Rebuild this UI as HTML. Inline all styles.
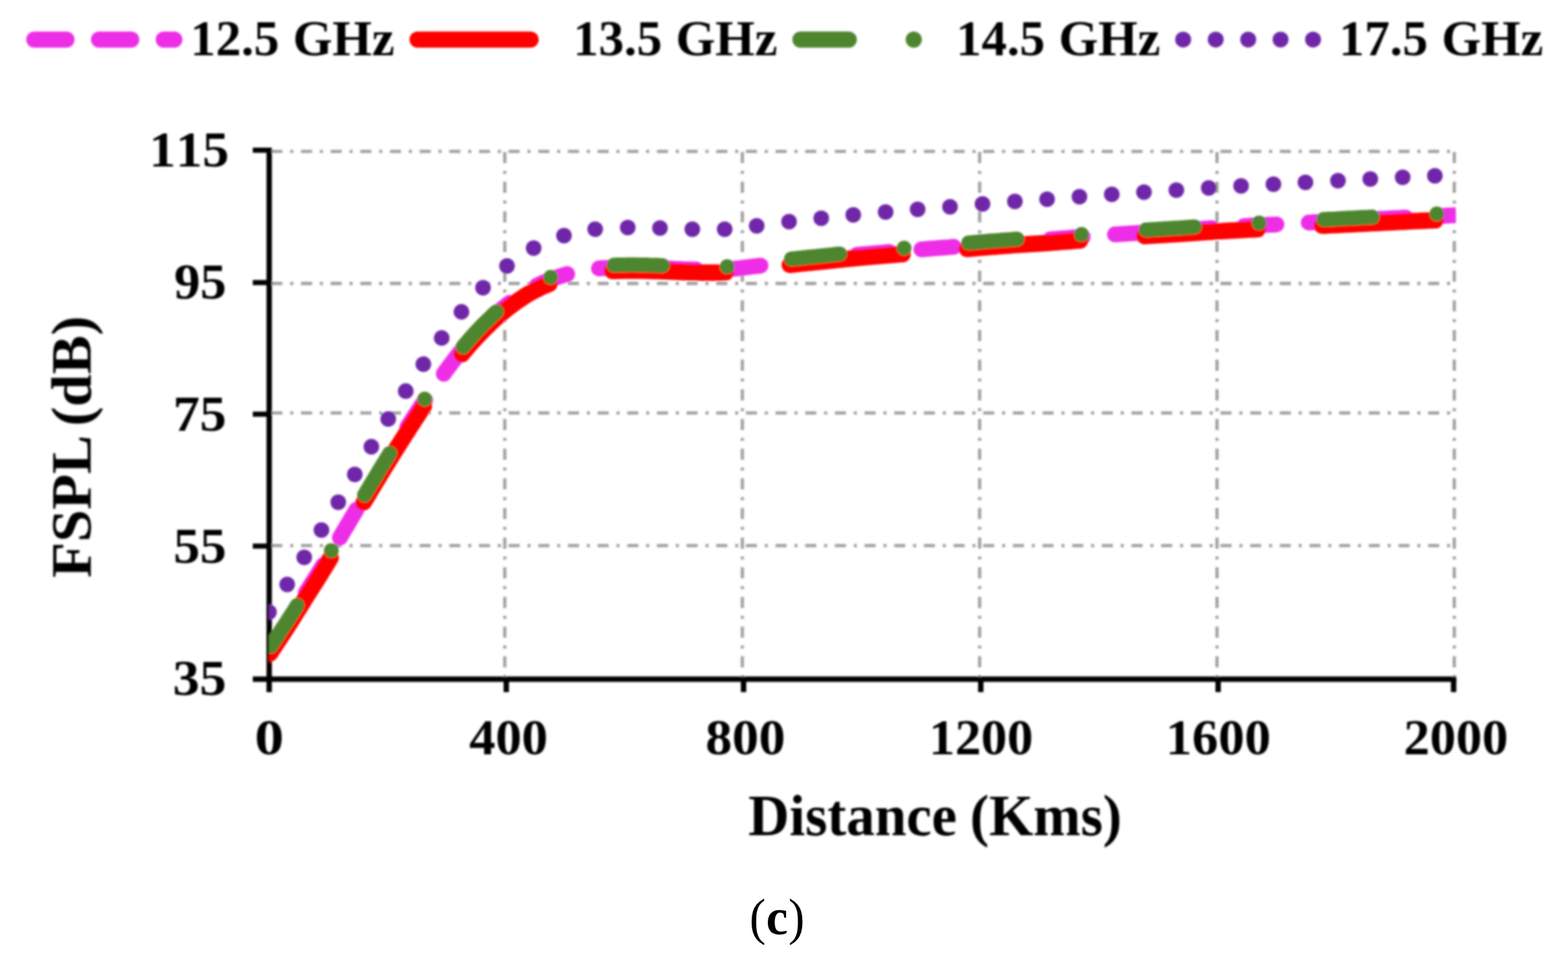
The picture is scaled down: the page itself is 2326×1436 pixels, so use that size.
<!DOCTYPE html>
<html lang="en"><head><meta charset="utf-8"><title>FSPL vs Distance</title>
<style>html,body{margin:0;padding:0;background:#fff;}body{width:2326px;height:1436px;overflow:hidden}svg{display:block}</style>
</head><body>
<svg width="2326" height="1436" viewBox="0 0 2326 1436">
<defs><clipPath id="plot"><rect x="399.0" y="180" width="1760.5" height="827.4"/></clipPath>
<filter id="soft" filterUnits="userSpaceOnUse" x="0" y="0" width="2326" height="1436"><feGaussianBlur stdDeviation="1.5"/></filter></defs>
<rect width="2326" height="1436" fill="#ffffff"/>
<g filter="url(#soft)">
<g stroke="#a2a2a2" stroke-width="4.8" fill="none" stroke-dasharray="16.4 11.6 4.6 11.4">
<path d="M402.5,224.6 H2157.3"/>
<path d="M402.5,420.5 H2157.3"/>
<path d="M402.5,612.6 H2157.3"/>
<path d="M402.5,809.4 H2157.3"/>
<path d="M748.8,225.5 V1007.4"/>
<path d="M1101.2,225.5 V1007.4"/>
<path d="M1453.2,225.5 V1007.4"/>
<path d="M1805.3,225.5 V1007.4"/>
<path d="M2157.3,225.5 V1007.4"/>
</g>
<g stroke="#000" stroke-width="8" fill="none">
<path d="M399.3,219.10000000000002 V1026.7"/>
<path d="M375,1007.4 H2160.3" stroke-linejoin="round"/>
<path d="M375,222.8 H399.3" stroke-width="7.6"/>
<path d="M375,419.2 H399.3" stroke-width="7.6"/>
<path d="M375,614.4 H399.3" stroke-width="7.6"/>
<path d="M375,810.1 H399.3" stroke-width="7.6"/>
<path d="M751,1007.4 V1026.7"/>
<path d="M1103,1007.4 V1026.7"/>
<path d="M1454.9,1007.4 V1026.7"/>
<path d="M1807,1007.4 V1026.7"/>
<path d="M2156.3,1007.4 V1026.7"/>
</g>
<g clip-path="url(#plot)" fill="none" stroke-linecap="round" stroke-linejoin="round">
<path d="M399.0,964.0 L401.3,960.6 L403.5,957.2 L405.8,953.8 L408.1,950.4 L410.3,946.9 L412.6,943.5 L414.9,940.1 L417.1,936.7 L419.4,933.3 L421.6,929.9 L423.8,926.5 L426.0,923.1 L428.2,919.8 L430.3,916.4 L432.4,913.1 L434.6,909.7 L436.7,906.4 L438.7,903.0 L440.8,899.7 L442.9,896.4 L445.0,893.0 L447.1,889.7 L449.2,886.4 L451.3,883.0 L453.4,879.7 L455.5,876.3 L457.7,873.0 L459.8,869.6 L461.9,866.2 L464.1,862.9 L466.2,859.5 L468.3,856.2 L470.5,852.8 L472.6,849.4 L474.7,846.0 L476.8,842.6 L478.9,839.2 L481.0,835.8 L483.1,832.4 L485.2,829.0 L487.3,825.6 L489.4,822.1 L491.4,818.7 L493.5,815.2 L495.6,811.8 L497.7,808.4 L499.7,804.9 L501.8,801.5 L503.9,798.1 L505.9,794.7 L508.0,791.2 L510.0,787.8 L512.0,784.4 L514.1,780.9 L516.1,777.5 L518.1,774.1 L520.2,770.7 L522.2,767.2 L524.3,763.8 L526.3,760.4 L528.3,757.0 L530.4,753.6 L532.4,750.1 L534.5,746.7 L536.5,743.3 L538.6,739.9 L540.6,736.5 L542.7,733.1 L544.7,729.7 L546.8,726.3 L548.8,722.9 L550.9,719.5 L553.0,716.0 L555.0,712.6 L557.1,709.2 L559.2,705.8 L561.2,702.4 L563.3,698.9 L565.4,695.5 L567.5,692.1 L569.6,688.7 L571.7,685.2 L573.8,681.8 L575.9,678.4 L578.0,674.9 L580.2,671.5 L582.3,668.1 L584.5,664.6 L586.7,661.2 L588.8,657.7 L591.0,654.3 L593.2,650.8 L595.4,647.4 L597.5,644.0 L599.7,640.6 L601.9,637.2 L604.1,633.8 L606.2,630.5 L608.4,627.1 L610.6,623.8 L612.7,620.4 L614.9,617.1 L617.0,613.8 L619.2,610.5 L621.4,607.2 L623.6,603.9 L625.8,600.6 L628.0,597.3 L630.2,594.1 L632.4,590.8 L634.7,587.6 L636.9,584.4 L639.1,581.1 L641.4,577.9 L643.7,574.7 L645.9,571.5 L648.2,568.3 L650.5,565.1 L652.9,561.9 L655.2,558.7 L657.6,555.4 L659.9,552.2 L662.3,548.9 L664.7,545.7 L667.1,542.4 L669.6,539.2 L672.0,535.9 L674.5,532.7 L676.9,529.5 L679.4,526.3 L682.0,523.1 L684.5,520.0 L687.1,516.9 L689.6,513.9 L692.2,510.8 L694.8,507.8 L697.5,504.8 L700.1,501.8 L702.8,498.8 L705.5,495.9 L708.2,493.0 L710.9,490.1 L713.7,487.3 L716.5,484.4 L719.3,481.6 L722.2,478.8 L725.1,476.0 L728.0,473.3 L730.9,470.5 L733.8,467.8 L736.8,465.1 L739.8,462.5 L742.8,459.9 L745.9,457.3 L749.0,454.8 L752.1,452.4 L755.2,450.0 L758.4,447.6 L761.6,445.2 L764.8,442.9 L768.0,440.6 L771.3,438.4 L774.6,436.2 L777.9,434.1 L781.2,432.0 L784.7,430.0 L788.1,428.1 L791.6,426.2 L795.2,424.3 L798.8,422.6 L802.4,420.9 L806.1,419.2 L809.9,417.6 L813.7,416.0 L817.5,414.5 L821.3,413.1 L825.1,411.7 L829.0,410.4 L832.8,409.2 L836.6,408.0 L840.4,406.9 L844.2,405.9 L848.0,404.9 L851.9,404.0 L855.7,403.2 L859.5,402.4 L863.4,401.7 L867.3,401.0 L871.2,400.4 L875.1,399.9 L879.0,399.3 L882.9,398.8 L886.9,398.4 L890.8,398.0 L894.8,397.7 L898.9,397.5 L902.9,397.3 L907.0,397.1 L911.0,397.0 L915.1,396.9 L919.1,396.8 L923.2,396.8 L927.2,396.7 L931.2,396.7 L935.2,396.7 L939.2,396.7 L943.2,396.7 L947.2,396.8 L951.1,396.9 L955.1,397.0 L959.1,397.1 L963.1,397.2 L967.0,397.4 L971.0,397.5 L975.0,397.7 L979.0,397.8 L983.0,397.9 L987.0,398.1 L991.0,398.3 L995.0,398.5 L999.0,398.7 L1003.0,398.9 L1007.0,399.0 L1011.0,399.2 L1015.0,399.4 L1019.0,399.5 L1023.0,399.6 L1027.0,399.7 L1031.0,399.8 L1035.0,399.9 L1039.0,400.0 L1043.0,400.0 L1047.0,400.1 L1051.0,400.1 L1055.0,400.2 L1059.0,400.2 L1063.0,400.1 L1067.0,400.0 L1071.0,399.9 L1075.0,399.7 L1079.0,399.5 L1082.9,399.2 L1086.9,398.9 L1090.9,398.5 L1094.8,398.1 L1098.8,397.6 L1102.7,397.2 L1106.6,396.7 L1110.6,396.2 L1114.6,395.7 L1118.5,395.2 L1122.5,394.7 L1126.5,394.3 L1130.5,393.7 L1134.5,393.2 L1138.5,392.7 L1142.5,392.2 L1146.5,391.6 L1150.5,391.1 L1154.5,390.5 L1158.5,390.0 L1162.5,389.5 L1166.5,389.0 L1170.5,388.5 L1174.5,388.0 L1178.5,387.6 L1182.5,387.2 L1186.4,386.7 L1190.4,386.3 L1194.4,385.9 L1198.4,385.5 L1202.4,385.1 L1206.3,384.7 L1210.3,384.3 L1214.3,383.9 L1218.2,383.5 L1222.2,383.1 L1226.2,382.7 L1230.1,382.2 L1234.1,381.8 L1238.0,381.4 L1242.0,381.0 L1245.9,380.5 L1249.9,380.1 L1253.8,379.7 L1257.8,379.3 L1261.8,378.9 L1265.8,378.5 L1269.7,378.1 L1273.7,377.8 L1277.7,377.4 L1281.7,377.0 L1285.7,376.7 L1289.8,376.3 L1293.8,376.0 L1297.8,375.6 L1301.8,375.3 L1305.8,375.0 L1309.8,374.6 L1313.8,374.3 L1317.7,373.9 L1321.7,373.6 L1325.6,373.3 L1329.6,372.9 L1333.6,372.6 L1337.5,372.3 L1341.4,371.9 L1345.4,371.6 L1349.4,371.3 L1353.3,370.9 L1357.3,370.6 L1361.2,370.3 L1365.2,370.0 L1369.2,369.7 L1373.2,369.4 L1377.2,369.0 L1381.2,368.7 L1385.2,368.4 L1389.2,368.1 L1393.2,367.8 L1397.2,367.5 L1401.2,367.2 L1405.2,366.9 L1409.2,366.6 L1413.3,366.2 L1417.3,365.9 L1421.3,365.5 L1425.3,365.2 L1429.3,364.8 L1433.4,364.4 L1437.4,364.1 L1441.4,363.7 L1445.4,363.4 L1449.5,363.0 L1453.5,362.7 L1457.5,362.3 L1461.5,362.0 L1465.5,361.7 L1469.5,361.3 L1473.5,361.0 L1477.5,360.7 L1481.5,360.4 L1485.5,360.1 L1489.5,359.8 L1493.5,359.5 L1497.5,359.2 L1501.5,358.9 L1505.5,358.6 L1509.5,358.3 L1513.5,358.0 L1517.4,357.7 L1521.4,357.5 L1525.4,357.2 L1529.4,357.0 L1533.3,356.7 L1537.3,356.4 L1541.3,356.2 L1545.3,355.9 L1549.3,355.6 L1553.2,355.3 L1557.2,355.0 L1561.2,354.7 L1565.2,354.4 L1569.2,354.1 L1573.2,353.8 L1577.2,353.5 L1581.2,353.2 L1585.2,352.9 L1589.2,352.5 L1593.2,352.2 L1597.2,351.9 L1601.2,351.6 L1605.3,351.3 L1609.3,351.0 L1613.3,350.7 L1617.3,350.4 L1621.3,350.1 L1625.3,349.8 L1629.3,349.5 L1633.3,349.3 L1637.3,349.0 L1641.3,348.7 L1645.3,348.4 L1649.2,348.1 L1653.2,347.8 L1657.2,347.6 L1661.2,347.3 L1665.2,347.0 L1669.2,346.7 L1673.1,346.5 L1677.1,346.2 L1681.1,345.9 L1685.1,345.7 L1689.0,345.4 L1693.0,345.1 L1697.0,344.9 L1701.0,344.6 L1705.0,344.4 L1709.0,344.1 L1713.0,343.9 L1717.0,343.6 L1721.0,343.4 L1725.0,343.1 L1729.0,342.9 L1733.0,342.7 L1737.0,342.4 L1741.0,342.1 L1745.0,341.9 L1749.0,341.6 L1753.0,341.4 L1757.0,341.1 L1761.0,340.8 L1765.0,340.5 L1769.0,340.3 L1773.0,340.0 L1777.0,339.7 L1781.0,339.5 L1785.0,339.2 L1789.0,338.9 L1793.0,338.7 L1797.0,338.4 L1801.0,338.1 L1805.0,337.9 L1809.0,337.6 L1813.0,337.4 L1817.0,337.1 L1821.0,336.9 L1825.0,336.6 L1829.0,336.4 L1833.0,336.1 L1837.0,335.9 L1841.0,335.7 L1845.0,335.4 L1849.0,335.2 L1853.0,335.0 L1857.0,334.8 L1861.0,334.6 L1865.0,334.4 L1869.0,334.2 L1873.0,334.0 L1877.0,333.8 L1881.0,333.6 L1885.0,333.4 L1889.0,333.2 L1893.0,333.0 L1896.9,332.7 L1900.9,332.5 L1904.8,332.3 L1908.8,332.0 L1912.7,331.8 L1916.7,331.6 L1920.6,331.3 L1924.6,331.1 L1928.5,330.9 L1932.5,330.7 L1936.5,330.4 L1940.5,330.2 L1944.5,330.0 L1948.5,329.8 L1952.5,329.6 L1956.6,329.4 L1960.6,329.2 L1964.6,329.0 L1968.7,328.8 L1972.7,328.6 L1976.7,328.4 L1980.7,328.2 L1984.8,328.0 L1988.8,327.7 L1992.8,327.5 L1996.8,327.3 L2000.8,327.1 L2004.8,326.9 L2008.8,326.7 L2012.8,326.5 L2016.8,326.3 L2020.8,326.1 L2024.8,325.9 L2028.8,325.7 L2032.8,325.5 L2036.8,325.3 L2040.8,325.0 L2044.8,324.8 L2048.8,324.6 L2052.8,324.4 L2056.8,324.2 L2060.8,324.0 L2064.8,323.8 L2068.8,323.6 L2072.8,323.4 L2076.8,323.2 L2080.8,323.0 L2084.7,322.8 L2088.7,322.6 L2092.7,322.4 L2096.7,322.2 L2100.7,322.0 L2104.6,321.8 L2108.6,321.7 L2112.6,321.5 L2116.6,321.3 L2120.5,321.1 L2124.5,320.9 L2128.5,320.7 L2132.5,320.6 L2136.5,320.4 L2140.5,320.2 L2144.5,320.0 L2148.5,319.8 L2152.5,319.6 L2156.5,319.4 L2160.5,319.2 L2164.5,319.1 L2168.5,318.9 L2172.5,318.7 L2176.5,318.5" stroke="#ee2ee6" stroke-width="23.5" stroke-dasharray="48 48" stroke-dashoffset="-5.0"/>
<path d="M399.0,971.5 L401.3,968.1 L403.5,964.7 L405.8,961.2 L408.1,957.8 L410.3,954.4 L412.6,951.0 L414.9,947.5 L417.1,944.1 L419.4,940.7 L421.6,937.3 L423.8,933.9 L426.0,930.5 L428.2,927.1 L430.3,923.8 L432.4,920.4 L434.6,917.1 L436.7,913.7 L438.7,910.4 L440.8,907.0 L442.9,903.7 L445.0,900.4 L447.1,897.0 L449.2,893.7 L451.3,890.3 L453.4,886.9 L455.5,883.6 L457.7,880.2 L459.8,876.8 L461.9,873.5 L464.1,870.1 L466.2,866.7 L468.3,863.4 L470.5,860.0 L472.6,856.6 L474.7,853.2 L476.8,849.8 L478.9,846.4 L481.0,843.0 L483.1,839.6 L485.2,836.1 L487.3,832.7 L489.4,829.2 L491.4,825.8 L493.5,822.4 L495.6,818.9 L497.7,815.5 L499.7,812.0 L501.8,808.6 L503.9,805.1 L505.9,801.7 L508.0,798.3 L510.0,794.8 L512.0,791.4 L514.1,788.0 L516.1,784.5 L518.1,781.1 L520.2,777.6 L522.2,774.2 L524.3,770.8 L526.3,767.4 L528.3,763.9 L530.4,760.5 L532.4,757.1 L534.5,753.7 L536.5,750.3 L538.6,746.8 L540.6,743.4 L542.7,740.0 L544.7,736.6 L546.8,733.2 L548.8,729.8 L550.9,726.3 L553.0,722.9 L555.0,719.5 L557.1,716.0 L559.2,712.6 L561.2,709.2 L563.3,705.8 L565.4,702.3 L567.5,698.9 L569.6,695.5 L571.7,692.0 L573.8,688.6 L575.9,685.1 L578.0,681.7 L580.2,678.3 L582.3,674.8 L584.5,671.3 L586.7,667.9 L588.8,664.4 L591.0,661.0 L593.2,657.5 L595.4,654.1 L597.5,650.7 L599.7,647.3 L601.9,643.9 L604.1,640.5 L606.2,637.1 L608.4,633.8 L610.6,630.4 L612.7,627.1 L614.9,623.7 L617.0,620.4 L619.2,617.1 L621.4,613.8 L623.6,610.5 L625.8,607.2 L628.0,603.9 L630.2,600.6 L632.4,597.4 L634.7,594.1 L636.9,590.9 L639.1,587.6 L641.4,584.4 L643.7,581.2 L645.9,578.0 L648.2,574.8 L650.5,571.6 L652.9,568.3 L655.2,565.1 L657.6,561.9 L659.9,558.6 L662.3,555.3 L664.7,552.1 L667.1,548.8 L669.6,545.5 L672.0,542.3 L674.5,539.0 L676.9,535.8 L679.4,532.6 L682.0,529.5 L684.5,526.3 L687.1,523.2 L689.6,520.2 L692.2,517.1 L694.8,514.1 L697.5,511.0 L700.1,508.0 L702.8,505.1 L705.5,502.1 L708.2,499.2 L710.9,496.3 L713.7,493.4 L716.5,490.6 L719.3,487.7 L722.2,484.9 L725.1,482.1 L728.0,479.3 L730.9,476.6 L733.8,473.8 L736.8,471.2 L739.8,468.5 L742.8,465.9 L745.9,463.3 L749.0,460.8 L752.1,458.3 L755.2,455.9 L758.4,453.5 L761.6,451.1 L764.8,448.7 L768.0,446.4 L771.3,444.2 L774.6,442.0 L777.9,439.8 L781.2,437.7 L784.7,435.7 L788.1,433.7 L791.6,431.8 L795.2,430.0 L798.8,428.2 L802.4,426.4 L806.1,424.7 L809.9,423.1 L813.7,421.5 L817.5,420.0 L821.3,418.6 L825.1,417.2 L829.0,415.8 L832.8,414.6 L836.6,413.4 L840.4,412.2 L844.2,411.2 L848.0,410.2 L851.9,409.3 L855.7,408.4 L859.5,407.6 L863.4,406.9 L867.3,406.2 L871.2,405.6 L875.1,405.0 L879.0,404.4 L882.9,403.9 L886.9,403.4 L890.8,403.0 L894.8,402.7 L898.9,402.4 L902.9,402.2 L907.0,402.0 L911.0,401.9 L915.1,401.8 L919.1,401.7 L923.2,401.6 L927.2,401.5 L931.2,401.4 L935.2,401.4 L939.2,401.4 L943.2,401.4 L947.2,401.4 L951.1,401.5 L955.1,401.6 L959.1,401.7 L963.1,401.8 L967.0,401.9 L971.0,402.0 L975.0,402.1 L979.0,402.2 L983.0,402.4 L987.0,402.5 L991.0,402.7 L995.0,402.8 L999.0,403.0 L1003.0,403.2 L1007.0,403.4 L1011.0,403.5 L1015.0,403.7 L1019.0,403.8 L1023.0,404.0 L1027.0,404.0 L1031.0,404.1 L1035.0,404.2 L1039.0,404.3 L1043.0,404.4 L1047.0,404.5 L1051.0,404.5 L1055.0,404.5 L1059.0,404.5 L1063.0,404.5 L1067.0,404.4 L1071.0,404.3 L1075.0,404.1 L1079.0,403.9 L1082.9,403.6 L1086.9,403.3 L1090.9,402.9 L1094.8,402.5 L1098.8,402.1 L1102.7,401.6 L1106.6,401.1 L1110.6,400.6 L1114.6,400.2 L1118.5,399.7 L1122.5,399.2 L1126.5,398.7 L1130.5,398.2 L1134.5,397.7 L1138.5,397.2 L1142.5,396.7 L1146.5,396.1 L1150.5,395.6 L1154.5,395.1 L1158.5,394.5 L1162.5,394.0 L1166.5,393.5 L1170.5,393.0 L1174.5,392.6 L1178.5,392.2 L1182.5,391.7 L1186.4,391.3 L1190.4,390.9 L1194.4,390.5 L1198.4,390.1 L1202.4,389.7 L1206.3,389.3 L1210.3,388.9 L1214.3,388.5 L1218.2,388.1 L1222.2,387.7 L1226.2,387.3 L1230.1,386.9 L1234.1,386.5 L1238.0,386.0 L1242.0,385.6 L1245.9,385.2 L1249.9,384.8 L1253.8,384.4 L1257.8,384.0 L1261.8,383.6 L1265.8,383.2 L1269.7,382.8 L1273.7,382.5 L1277.7,382.1 L1281.7,381.8 L1285.7,381.4 L1289.8,381.1 L1293.8,380.7 L1297.8,380.4 L1301.8,380.0 L1305.8,379.7 L1309.8,379.4 L1313.8,379.0 L1317.7,378.7 L1321.7,378.4 L1325.6,378.0 L1329.6,377.7 L1333.6,377.4 L1337.5,377.1 L1341.4,376.7 L1345.4,376.4 L1349.4,376.1 L1353.3,375.8 L1357.3,375.4 L1361.2,375.1 L1365.2,374.8 L1369.2,374.5 L1373.2,374.2 L1377.2,373.9 L1381.2,373.6 L1385.2,373.3 L1389.2,373.0 L1393.2,372.7 L1397.2,372.4 L1401.2,372.1 L1405.2,371.8 L1409.2,371.5 L1413.3,371.1 L1417.3,370.8 L1421.3,370.4 L1425.3,370.1 L1429.3,369.7 L1433.4,369.4 L1437.4,369.0 L1441.4,368.7 L1445.4,368.3 L1449.5,368.0 L1453.5,367.6 L1457.5,367.3 L1461.5,367.0 L1465.5,366.6 L1469.5,366.3 L1473.5,366.0 L1477.5,365.7 L1481.5,365.4 L1485.5,365.1 L1489.5,364.8 L1493.5,364.5 L1497.5,364.2 L1501.5,363.9 L1505.5,363.6 L1509.5,363.3 L1513.5,363.1 L1517.4,362.8 L1521.4,362.5 L1525.4,362.3 L1529.4,362.0 L1533.3,361.8 L1537.3,361.5 L1541.3,361.3 L1545.3,361.0 L1549.3,360.7 L1553.2,360.5 L1557.2,360.2 L1561.2,359.9 L1565.2,359.6 L1569.2,359.3 L1573.2,358.9 L1577.2,358.6 L1581.2,358.3 L1585.2,358.0 L1589.2,357.7 L1593.2,357.4 L1597.2,357.1 L1601.2,356.8 L1605.3,356.5 L1609.3,356.2 L1613.3,355.9 L1617.3,355.6 L1621.3,355.3 L1625.3,355.0 L1629.3,354.8 L1633.3,354.5 L1637.3,354.2 L1641.3,353.9 L1645.3,353.6 L1649.2,353.4 L1653.2,353.1 L1657.2,352.8 L1661.2,352.6 L1665.2,352.3 L1669.2,352.0 L1673.1,351.8 L1677.1,351.5 L1681.1,351.2 L1685.1,351.0 L1689.0,350.7 L1693.0,350.5 L1697.0,350.2 L1701.0,350.0 L1705.0,349.7 L1709.0,349.5 L1713.0,349.2 L1717.0,349.0 L1721.0,348.7 L1725.0,348.5 L1729.0,348.3 L1733.0,348.0 L1737.0,347.8 L1741.0,347.5 L1745.0,347.3 L1749.0,347.0 L1753.0,346.8 L1757.0,346.5 L1761.0,346.2 L1765.0,346.0 L1769.0,345.7 L1773.0,345.4 L1777.0,345.2 L1781.0,344.9 L1785.0,344.6 L1789.0,344.4 L1793.0,344.1 L1797.0,343.9 L1801.0,343.6 L1805.0,343.4 L1809.0,343.1 L1813.0,342.9 L1817.0,342.6 L1821.0,342.4 L1825.0,342.1 L1829.0,341.9 L1833.0,341.7 L1837.0,341.4 L1841.0,341.2 L1845.0,341.0 L1849.0,340.8 L1853.0,340.6 L1857.0,340.4 L1861.0,340.2 L1865.0,340.0 L1869.0,339.8 L1873.0,339.6 L1877.0,339.4 L1881.0,339.2 L1885.0,339.0 L1889.0,338.8 L1893.0,338.6 L1896.9,338.3 L1900.9,338.1 L1904.8,337.9 L1908.8,337.7 L1912.7,337.4 L1916.7,337.2 L1920.6,337.0 L1924.6,336.8 L1928.5,336.5 L1932.5,336.3 L1936.5,336.1 L1940.5,335.9 L1944.5,335.7 L1948.5,335.5 L1952.5,335.3 L1956.6,335.1 L1960.6,334.9 L1964.6,334.7 L1968.7,334.5 L1972.7,334.3 L1976.7,334.1 L1980.7,333.9 L1984.8,333.7 L1988.8,333.5 L1992.8,333.3 L1996.8,333.1 L2000.8,332.9 L2004.8,332.7 L2008.8,332.5 L2012.8,332.3 L2016.8,332.1 L2020.8,331.9 L2024.8,331.7 L2028.8,331.5 L2032.8,331.3 L2036.8,331.1 L2040.8,330.9 L2044.8,330.7 L2048.8,330.5 L2052.8,330.3 L2056.8,330.1 L2060.8,329.9 L2064.8,329.7 L2068.8,329.5 L2072.8,329.3 L2076.8,329.1 L2080.8,328.9 L2084.7,328.7 L2088.7,328.5 L2092.7,328.3 L2096.7,328.1 L2100.7,327.9 L2104.6,327.8 L2108.6,327.6 L2112.6,327.4 L2116.6,327.2 L2120.5,327.1 L2124.5,326.9 L2128.5,326.7 L2132.5,326.5 L2136.5,326.3 L2140.5,326.2 L2144.5,326.0 L2148.5,325.8 L2152.5,325.6 L2156.5,325.4 L2160.5,325.2 L2164.5,325.1 L2168.5,324.9 L2172.5,324.7 L2176.5,324.5" stroke="#ff0000" stroke-width="24.5" stroke-dasharray="168 96" stroke-dashoffset="-2.5"/>
<path d="M399.0,962.5 L401.3,959.1 L403.5,955.7 L405.8,952.2 L408.1,948.8 L410.3,945.4 L412.6,942.0 L414.9,938.5 L417.1,935.1 L419.4,931.7 L421.6,928.3 L423.8,924.9 L426.0,921.5 L428.2,918.1 L430.3,914.8 L432.4,911.4 L434.6,908.1 L436.7,904.7 L438.7,901.4 L440.8,898.0 L442.9,894.7 L445.0,891.3 L447.1,888.0 L449.2,884.6 L451.3,881.3 L453.4,877.9 L455.5,874.6 L457.7,871.2 L459.8,867.8 L461.9,864.5 L464.1,861.1 L466.2,857.7 L468.3,854.4 L470.5,851.0 L472.6,847.6 L474.7,844.2 L476.8,840.8 L478.9,837.4 L481.0,834.0 L483.1,830.6 L485.2,827.1 L487.3,823.7 L489.4,820.2 L491.4,816.8 L493.5,813.3 L495.6,809.9 L497.7,806.5 L499.7,803.0 L501.8,799.6 L503.9,796.1 L505.9,792.7 L508.0,789.3 L510.0,785.8 L512.0,782.4 L514.1,778.9 L516.1,775.5 L518.1,772.1 L520.2,768.6 L522.2,765.2 L524.3,761.8 L526.3,758.3 L528.3,754.9 L530.4,751.5 L532.4,748.1 L534.5,744.7 L536.5,741.2 L538.6,737.8 L540.6,734.4 L542.7,731.0 L544.7,727.6 L546.8,724.2 L548.8,720.7 L550.9,717.3 L553.0,713.9 L555.0,710.5 L557.1,707.0 L559.2,703.6 L561.2,700.2 L563.3,696.7 L565.4,693.3 L567.5,689.9 L569.6,686.4 L571.7,683.0 L573.8,679.6 L575.9,676.1 L578.0,672.7 L580.2,669.2 L582.3,665.8 L584.5,662.3 L586.7,658.9 L588.8,655.4 L591.0,652.0 L593.2,648.5 L595.4,645.1 L597.5,641.7 L599.7,638.2 L601.9,634.9 L604.1,631.5 L606.2,628.1 L608.4,624.7 L610.6,621.4 L612.7,618.0 L614.9,614.7 L617.0,611.4 L619.2,608.1 L621.4,604.8 L623.6,601.5 L625.8,598.2 L628.0,594.9 L630.2,591.6 L632.4,588.3 L634.7,585.1 L636.9,581.9 L639.1,578.6 L641.4,575.4 L643.7,572.2 L645.9,569.0 L648.2,565.8 L650.5,562.5 L652.9,559.3 L655.2,556.1 L657.6,552.9 L659.9,549.6 L662.3,546.3 L664.7,543.1 L667.1,539.8 L669.6,536.5 L672.0,533.3 L674.5,530.0 L676.9,526.8 L679.4,523.6 L682.0,520.4 L684.5,517.3 L687.1,514.2 L689.6,511.1 L692.2,508.1 L694.8,505.0 L697.5,502.0 L700.1,499.0 L702.8,496.0 L705.5,493.1 L708.2,490.2 L710.9,487.3 L713.7,484.4 L716.5,481.5 L719.3,478.7 L722.2,475.9 L725.1,473.1 L728.0,470.3 L730.9,467.5 L733.8,464.8 L736.8,462.1 L739.8,459.5 L742.8,456.8 L745.9,454.3 L749.0,451.7 L752.1,449.3 L755.2,446.8 L758.4,444.4 L761.6,442.1 L764.8,439.7 L768.0,437.4 L771.3,435.2 L774.6,433.0 L777.9,430.8 L781.2,428.7 L784.7,426.7 L788.1,424.7 L791.6,422.8 L795.2,420.9 L798.8,419.1 L802.4,417.4 L806.1,415.7 L809.9,414.1 L813.7,412.5 L817.5,411.0 L821.3,409.6 L825.1,408.2 L829.0,406.9 L832.8,405.6 L836.6,404.4 L840.4,403.3 L844.2,402.3 L848.0,401.3 L851.9,400.4 L855.7,399.6 L859.5,398.8 L863.4,398.1 L867.3,397.4 L871.2,396.8 L875.1,396.2 L879.0,395.6 L882.9,395.1 L886.9,394.7 L890.8,394.3 L894.8,394.0 L898.9,393.7 L902.9,393.5 L907.0,393.3 L911.0,393.2 L915.1,393.1 L919.1,393.0 L923.2,392.9 L927.2,392.9 L931.2,392.8 L935.2,392.8 L939.2,392.8 L943.2,392.8 L947.2,392.9 L951.1,392.9 L955.1,393.0 L959.1,393.1 L963.1,393.3 L967.0,393.4 L971.0,393.5 L975.0,393.6 L979.0,393.8 L983.0,393.9 L987.0,394.1 L991.0,394.2 L995.0,394.4 L999.0,394.6 L1003.0,394.8 L1007.0,395.0 L1011.0,395.1 L1015.0,395.3 L1019.0,395.4 L1023.0,395.5 L1027.0,395.6 L1031.0,395.7 L1035.0,395.8 L1039.0,395.9 L1043.0,396.0 L1047.0,396.0 L1051.0,396.1 L1055.0,396.1 L1059.0,396.1 L1063.0,396.0 L1067.0,396.0 L1071.0,395.8 L1075.0,395.7 L1079.0,395.4 L1082.9,395.1 L1086.9,394.8 L1090.9,394.4 L1094.8,394.0 L1098.8,393.6 L1102.7,393.1 L1106.6,392.6 L1110.6,392.2 L1114.6,391.7 L1118.5,391.2 L1122.5,390.7 L1126.5,390.2 L1130.5,389.7 L1134.5,389.2 L1138.5,388.7 L1142.5,388.1 L1146.5,387.6 L1150.5,387.1 L1154.5,386.5 L1158.5,386.0 L1162.5,385.5 L1166.5,385.0 L1170.5,384.5 L1174.5,384.0 L1178.5,383.6 L1182.5,383.2 L1186.4,382.8 L1190.4,382.3 L1194.4,381.9 L1198.4,381.5 L1202.4,381.1 L1206.3,380.7 L1210.3,380.4 L1214.3,379.9 L1218.2,379.5 L1222.2,379.1 L1226.2,378.7 L1230.1,378.3 L1234.1,377.9 L1238.0,377.4 L1242.0,377.0 L1245.9,376.6 L1249.9,376.2 L1253.8,375.8 L1257.8,375.4 L1261.8,375.0 L1265.8,374.6 L1269.7,374.2 L1273.7,373.8 L1277.7,373.5 L1281.7,373.1 L1285.7,372.8 L1289.8,372.4 L1293.8,372.1 L1297.8,371.7 L1301.8,371.4 L1305.8,371.0 L1309.8,370.7 L1313.8,370.4 L1317.7,370.0 L1321.7,369.7 L1325.6,369.4 L1329.6,369.0 L1333.6,368.7 L1337.5,368.4 L1341.4,368.0 L1345.4,367.7 L1349.4,367.4 L1353.3,367.1 L1357.3,366.7 L1361.2,366.4 L1365.2,366.1 L1369.2,365.8 L1373.2,365.5 L1377.2,365.2 L1381.2,364.9 L1385.2,364.6 L1389.2,364.3 L1393.2,364.0 L1397.2,363.7 L1401.2,363.3 L1405.2,363.0 L1409.2,362.7 L1413.3,362.4 L1417.3,362.0 L1421.3,361.7 L1425.3,361.3 L1429.3,361.0 L1433.4,360.6 L1437.4,360.2 L1441.4,359.9 L1445.4,359.5 L1449.5,359.2 L1453.5,358.8 L1457.5,358.5 L1461.5,358.2 L1465.5,357.8 L1469.5,357.5 L1473.5,357.2 L1477.5,356.9 L1481.5,356.6 L1485.5,356.3 L1489.5,356.0 L1493.5,355.7 L1497.5,355.4 L1501.5,355.1 L1505.5,354.8 L1509.5,354.5 L1513.5,354.2 L1517.4,354.0 L1521.4,353.7 L1525.4,353.4 L1529.4,353.2 L1533.3,352.9 L1537.3,352.7 L1541.3,352.4 L1545.3,352.1 L1549.3,351.9 L1553.2,351.6 L1557.2,351.3 L1561.2,351.0 L1565.2,350.7 L1569.2,350.4 L1573.2,350.1 L1577.2,349.7 L1581.2,349.4 L1585.2,349.1 L1589.2,348.8 L1593.2,348.5 L1597.2,348.2 L1601.2,347.9 L1605.3,347.6 L1609.3,347.3 L1613.3,347.0 L1617.3,346.7 L1621.3,346.4 L1625.3,346.1 L1629.3,345.8 L1633.3,345.5 L1637.3,345.3 L1641.3,345.0 L1645.3,344.7 L1649.2,344.4 L1653.2,344.1 L1657.2,343.9 L1661.2,343.6 L1665.2,343.3 L1669.2,343.0 L1673.1,342.8 L1677.1,342.5 L1681.1,342.2 L1685.1,342.0 L1689.0,341.7 L1693.0,341.5 L1697.0,341.2 L1701.0,340.9 L1705.0,340.7 L1709.0,340.4 L1713.0,340.2 L1717.0,340.0 L1721.0,339.7 L1725.0,339.5 L1729.0,339.2 L1733.0,339.0 L1737.0,338.7 L1741.0,338.5 L1745.0,338.2 L1749.0,338.0 L1753.0,337.7 L1757.0,337.5 L1761.0,337.2 L1765.0,336.9 L1769.0,336.6 L1773.0,336.4 L1777.0,336.1 L1781.0,335.8 L1785.0,335.6 L1789.0,335.3 L1793.0,335.0 L1797.0,334.8 L1801.0,334.5 L1805.0,334.3 L1809.0,334.0 L1813.0,333.8 L1817.0,333.5 L1821.0,333.3 L1825.0,333.0 L1829.0,332.8 L1833.0,332.5 L1837.0,332.3 L1841.0,332.1 L1845.0,331.9 L1849.0,331.6 L1853.0,331.4 L1857.0,331.2 L1861.0,331.0 L1865.0,330.8 L1869.0,330.6 L1873.0,330.4 L1877.0,330.2 L1881.0,330.0 L1885.0,329.8 L1889.0,329.6 L1893.0,329.4 L1896.9,329.2 L1900.9,329.0 L1904.8,328.7 L1908.8,328.5 L1912.7,328.3 L1916.7,328.0 L1920.6,327.8 L1924.6,327.6 L1928.5,327.3 L1932.5,327.1 L1936.5,326.9 L1940.5,326.7 L1944.5,326.5 L1948.5,326.3 L1952.5,326.1 L1956.6,325.9 L1960.6,325.7 L1964.6,325.5 L1968.7,325.3 L1972.7,325.1 L1976.7,324.9 L1980.7,324.7 L1984.8,324.4 L1988.8,324.2 L1992.8,324.0 L1996.8,323.8 L2000.8,323.6 L2004.8,323.4 L2008.8,323.2 L2012.8,323.0 L2016.8,322.8 L2020.8,322.6 L2024.8,322.4 L2028.8,322.2 L2032.8,322.0 L2036.8,321.8 L2040.8,321.6 L2044.8,321.4 L2048.8,321.2 L2052.8,321.0 L2056.8,320.7 L2060.8,320.5 L2064.8,320.3 L2068.8,320.1 L2072.8,319.9 L2076.8,319.7 L2080.8,319.5 L2084.7,319.3 L2088.7,319.1 L2092.7,319.0 L2096.7,318.8 L2100.7,318.6 L2104.6,318.4 L2108.6,318.2 L2112.6,318.0 L2116.6,317.9 L2120.5,317.7 L2124.5,317.5 L2128.5,317.3 L2132.5,317.1 L2136.5,317.0 L2140.5,316.8 L2144.5,316.6 L2148.5,316.4 L2152.5,316.2 L2156.5,316.0 L2160.5,315.9 L2164.5,315.7 L2168.5,315.5 L2172.5,315.3 L2176.5,315.1" stroke="#4e862d" stroke-width="22" stroke-dasharray="72 96 0 96" stroke-dashoffset="-4.75"/>
<g fill="#7028a8" stroke="none">
<circle cx="399" cy="908" r="11.6"/>
<circle cx="426" cy="867" r="11.6"/>
<circle cx="451.3" cy="826.75" r="11.6"/>
<circle cx="476.8" cy="786.25" r="11.6"/>
<circle cx="501.8" cy="745" r="11.6"/>
<circle cx="526.3" cy="703.75" r="11.6"/>
<circle cx="550.9" cy="662.7" r="11.6"/>
<circle cx="575.9" cy="621.5" r="11.6"/>
<circle cx="601.9" cy="580.2" r="11.6"/>
<circle cx="628" cy="540.2" r="11.6"/>
<circle cx="655.2" cy="501.4" r="11.6"/>
<circle cx="684.5" cy="462.6" r="11.6"/>
<circle cx="716.5" cy="426.8" r="11.6"/>
<circle cx="752.1" cy="394.5" r="11.6"/>
<circle cx="791.6" cy="368" r="11.6"/>
<circle cx="836.6" cy="349.5" r="11.6"/>
<circle cx="882.9" cy="340" r="11.6"/>
<circle cx="931.2" cy="337.5" r="11.6"/>
<circle cx="979" cy="338.25" r="11.6"/>
<circle cx="1027" cy="340" r="11.6"/>
<circle cx="1075" cy="340" r="11.6"/>
<circle cx="1122.5" cy="335" r="11.6"/>
<circle cx="1170.5" cy="328.75" r="11.6"/>
<circle cx="1218.25" cy="323.75" r="11.6"/>
<circle cx="1265.75" cy="318.75" r="11.6"/>
<circle cx="1313.75" cy="314.5" r="11.6"/>
<circle cx="1361.25" cy="310.5" r="11.6"/>
<circle cx="1409.25" cy="306.75" r="11.6"/>
<circle cx="1457.5" cy="302.5" r="11.6"/>
<circle cx="1505.5" cy="298.75" r="11.6"/>
<circle cx="1553.25" cy="295.5" r="11.6"/>
<circle cx="1601.25" cy="291.75" r="11.6"/>
<circle cx="1649.25" cy="288.25" r="11.6"/>
<circle cx="1697" cy="285" r="11.6"/>
<circle cx="1745" cy="282" r="11.6"/>
<circle cx="1793" cy="278.75" r="11.6"/>
<circle cx="1841" cy="275.75" r="11.6"/>
<circle cx="1889" cy="273.25" r="11.6"/>
<circle cx="1936.5" cy="270.5" r="11.6"/>
<circle cx="1984.75" cy="268" r="11.6"/>
<circle cx="2032.75" cy="265.5" r="11.6"/>
<circle cx="2080.75" cy="263" r="11.6"/>
<circle cx="2128.5" cy="260.75" r="11.6"/>
</g></g>
<g fill="none" stroke-width="24" stroke-linecap="round">
<path d="M50.9,58.7 H98.6 M146.9,58.7 H194.6 M242.9,58.7 H258.6" stroke="#ee2ee6"/>
<path d="M619.4,58.7 H787.1" stroke="#ff0000"/>
<path d="M1187.4,58.7 H1259.1 M1355.5,58.7 h0.01" stroke="#4e862d"/>
</g>
<g fill="#7028a8">
<circle cx="1755.1" cy="58.7" r="11.8"/>
<circle cx="1803.4" cy="58.7" r="11.8"/>
<circle cx="1851.6" cy="58.7" r="11.8"/>
<circle cx="1899.6" cy="58.7" r="11.8"/>
<circle cx="1947.8" cy="58.7" r="11.8"/>
</g>
<g font-family="'Liberation Serif','DejaVu Serif',serif" font-weight="bold" fill="#000" style="font-kerning:none">
<text transform="matrix(1.0330 0 0 1.0000 282.36 82.00)" font-size="73" style="word-spacing:1.23px">12.5 GHz</text>
<text transform="matrix(1.0330 0 0 1.0000 850.36 82.00)" font-size="73" style="word-spacing:1.23px">13.5 GHz</text>
<text transform="matrix(1.0330 0 0 1.0000 1418.36 82.00)" font-size="73" style="word-spacing:1.23px">14.5 GHz</text>
<text transform="matrix(1.0330 0 0 1.0000 1986.36 82.00)" font-size="73" style="word-spacing:1.23px">17.5 GHz</text>
<text transform="matrix(1.0814 0 0 1.0000 221.28 247.20)" font-size="73">115</text>
<text transform="matrix(1.0639 0 0 1.0000 258.18 443.00)" font-size="73">95</text>
<text transform="matrix(1.0838 0 0 1.0000 256.78 639.00)" font-size="73">75</text>
<text transform="matrix(1.0786 0 0 1.0000 257.15 835.10)" font-size="73">55</text>
<text transform="matrix(1.0905 0 0 1.0000 256.31 1031.00)" font-size="73">35</text>
<text transform="matrix(1.1894 0 0 1.0000 377.79 1119.30)" font-size="73">0</text>
<text transform="matrix(1.0670 0 0 1.0000 695.94 1119.30)" font-size="73">400</text>
<text transform="matrix(1.0825 0 0 1.0000 1046.38 1119.30)" font-size="73">800</text>
<text transform="matrix(1.0584 0 0 1.0000 1378.11 1119.30)" font-size="73">1200</text>
<text transform="matrix(1.0664 0 0 1.0000 1729.37 1119.30)" font-size="73">1600</text>
<text transform="matrix(1.0610 0 0 1.0000 2082.25 1119.30)" font-size="73">2000</text>
<text transform="matrix(0.9931 0 0 1.0200 1110.12 1239.30)" font-size="85" style="word-spacing:-1.53px">Distance (Kms)</text>
<text transform="matrix(0 -1.0196 1.0050 0 135.30 857.18)" font-size="85" style="word-spacing:-8.38px">FSPL (dB)</text>
</g>
</g>
<text transform="matrix(0.95 0 0 1 1111.71 1385.9)" font-size="76.3" font-family="'Liberation Serif','DejaVu Serif',serif" fill="#000" style="font-kerning:none">(<tspan font-weight="bold" dx="0.71">c</tspan><tspan dx="0.81">)</tspan></text>
</svg>
</body></html>
